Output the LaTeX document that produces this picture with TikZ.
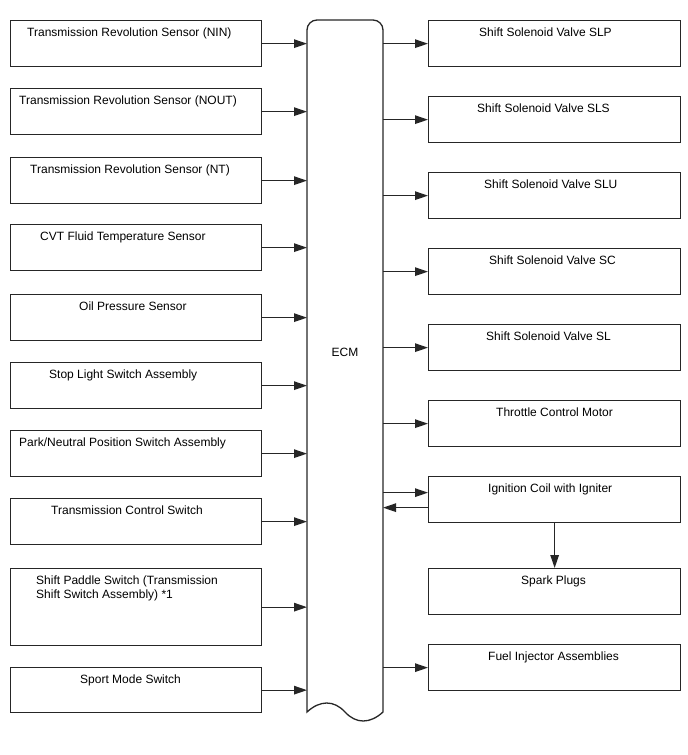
\documentclass[tikz,border=0pt]{standalone}
\usepackage{fontspec}
\setmainfont{Liberation Sans}
\usetikzlibrary{arrows.meta}
\begin{document}
\begin{tikzpicture}[x=1pt,y=-1pt,
  line/.style={line width=1.3pt, draw=black!85},
  lbox/.style={line, rectangle, anchor=north west, minimum width=251pt, minimum height=46pt, inner sep=0pt},
  rbox/.style={line, rectangle, anchor=north west, minimum width=252pt, minimum height=46pt, inner sep=0pt},
  lbl/.style={anchor=base west, inner sep=0pt, font=\fontsize{12}{14}\selectfont},
  arr/.style={line, -{Triangle[length=13pt,width=8.5pt]}}]
\useasboundingbox (0,0) rectangle (688,755);
% ECM
\draw[line] (307,712) -- (307,30) .. controls (307,24.48) and (311.48,20) .. (317,20)
  -- (373,20) .. controls (378.52,20) and (383,24.48) .. (383,30) -- (383,712)
  .. controls (370,724) and (356,724) .. (345,712)
  .. controls (334,700) and (320,700) .. (307,712) -- cycle;
\coordinate (ecmw) at (307,352);
\coordinate (ecme) at (383,352);
\node[font=\fontsize{12}{14}\selectfont] (ecm) at (345,352) {ECM};
% left boxes
\node[lbox] (l1) at (10,20) {};
\node[lbox] (l2) at (10,88) {};
\node[lbox] (l3) at (10,157) {};
\node[lbox] (l4) at (10,224) {};
\node[lbox] (l5) at (10,294) {};
\node[lbox] (l6) at (10,362) {};
\node[lbox] (l7) at (10,430) {};
\node[lbox] (l8) at (10,498) {};
\node[lbox, minimum height=77pt] (l9) at (10,568) {};
\node[lbox, minimum height=45pt] (l10) at (10,667) {};
\node[lbl] (t1) at (27,36) {Transmission Revolution Sensor (NIN)};
\node[lbl] (t2) at (19,104) {Transmission Revolution Sensor (NOUT)};
\node[lbl] (t3) at (30,173) {Transmission Revolution Sensor (NT)};
\node[lbl] (t4) at (40,240) {CVT Fluid Temperature Sensor};
\node[lbl] (t5) at (79,310) {Oil Pressure Sensor};
\node[lbl] (t6) at (49,378) {Stop Light Switch Assembly};
\node[lbl] (t7) at (19,446) {Park/Neutral Position Switch Assembly};
\node[lbl] (t8) at (51,514) {Transmission Control Switch};
\node[lbl, anchor=north west, align=left] (t9) at (36,575.2) {Shift Paddle Switch (Transmission\\Shift Switch Assembly) *1};
\node[lbl] (t10) at (80,683) {Sport Mode Switch};
\foreach \i in {1,...,10} {\draw[arr] (l\i.east) -- (l\i.east -| ecmw);}
% right boxes
\node[rbox] (r1) at (428,20) {};
\node[rbox] (r2) at (428,96) {};
\node[rbox] (r3) at (428,172) {};
\node[rbox] (r4) at (428,248) {};
\node[rbox] (r5) at (428,324) {};
\node[rbox] (r6) at (428,400) {};
\node[rbox] (ign) at (428,476) {};
\node[rbox] (spark) at (428,568) {};
\node[rbox] (r9) at (428,644) {};
\node[lbl] (s1) at (479,36) {Shift Solenoid Valve SLP};
\node[lbl] (s2) at (477,112) {Shift Solenoid Valve SLS};
\node[lbl] (s3) at (484,188) {Shift Solenoid Valve SLU};
\node[lbl] (s4) at (489,264) {Shift Solenoid Valve SC};
\node[lbl] (s5) at (486,340) {Shift Solenoid Valve SL};
\node[lbl] (s6) at (496,416) {Throttle Control Motor};
\node[lbl] (s7) at (488,492) {Ignition Coil with Igniter};
\node[lbl] (s8) at (521,584) {Spark Plugs};
\node[lbl] (s9) at (488,660) {Fuel Injector Assemblies};
\foreach \n in {r1,r2,r3,r4,r5,r6,r9} {\draw[arr] (\n.west -| ecme) -- (\n.west);}
\draw[arr] ([yshift=7pt]ign.west -| ecme) -- ([yshift=7pt]ign.west);
\draw[arr] ([yshift=-8pt]ign.west) -- ([yshift=-8pt]ign.west -| ecme);
\draw[arr] (ign.south) -- (spark.north);
\end{tikzpicture}
\end{document}
